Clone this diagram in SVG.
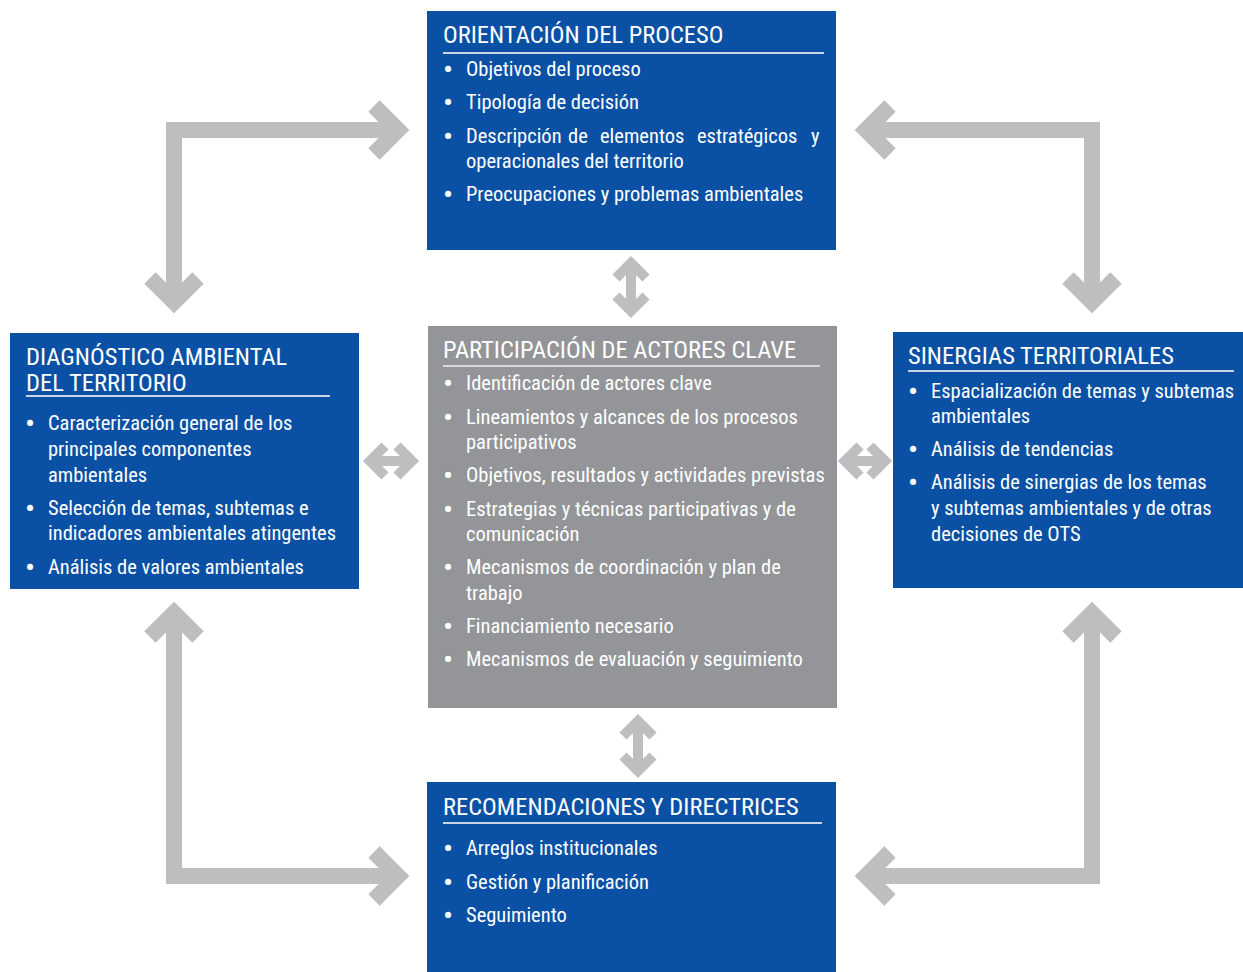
<svg xmlns="http://www.w3.org/2000/svg" width="1243" height="972" viewBox="0 0 1243 972">
<style>
.blue{fill:#0a51a5}
.gray{fill:#939598}
.big{fill:none;stroke:#bcbec0;stroke-width:16;stroke-linejoin:miter;stroke-miterlimit:10}
.sm{fill:none;stroke:#bcbec0;stroke-width:10;stroke-linejoin:miter;stroke-miterlimit:10}
text{font-family:"Liberation Sans Narrow","Roboto Condensed","DejaVu Sans Condensed","Liberation Sans",sans-serif;fill:#ffffff}
.h{font-size:24.5px}
.b{font-size:20.5px}
.bu{font-size:30px;text-anchor:middle}
.ul{stroke:#c9d3e6;stroke-width:2}
.ulg{stroke:#d6d7d9;stroke-width:2}
</style>
<rect width="1243" height="972" fill="#ffffff"/>
<g id="connectors">
  <polyline class="big" points="398,130 174,130 174,302"/>
  <polyline class="big" points="374,106 398,130 374,154"/>
  <polyline class="big" points="150,278 174,302 198,278"/>
  <polyline class="big" points="866,130 1092,130 1092,302"/>
  <polyline class="big" points="890,106 866,130 890,154"/>
  <polyline class="big" points="1068,278 1092,302 1116,278"/>
  <polyline class="big" points="174,613 174,876 398,876"/>
  <polyline class="big" points="150,637 174,613 198,637"/>
  <polyline class="big" points="374,852 398,876 374,900"/>
  <polyline class="big" points="1092,613 1092,876 866,876"/>
  <polyline class="big" points="1068,637 1092,613 1116,637"/>
  <polyline class="big" points="890,852 866,876 890,900"/>
  <line class="sm" x1="631" y1="263" x2="631" y2="311"/>
  <polyline class="sm" points="616,278 631,263 646,278"/>
  <polyline class="sm" points="616,296 631,311 646,296"/>
  <line class="sm" x1="638" y1="721" x2="638" y2="771"/>
  <polyline class="sm" points="623,736 638,721 653,736"/>
  <polyline class="sm" points="623,756 638,771 653,756"/>
  <line class="sm" x1="370" y1="461" x2="412" y2="461"/>
  <polyline class="sm" points="385,446 370,461 385,476"/>
  <polyline class="sm" points="397,446 412,461 397,476"/>
  <line class="sm" x1="845" y1="461" x2="885" y2="461"/>
  <polyline class="sm" points="860,446 845,461 860,476"/>
  <polyline class="sm" points="870,446 885,461 870,476"/>
</g>
<g id="orientacion">
  <rect class="blue" x="427" y="11" width="409" height="239"/>
  <text class="h" x="443" y="43">ORIENTACIÓN DEL PROCESO</text>
  <line class="ul" x1="443" y1="53" x2="824" y2="53"/>
  <text class="bu" x="448" y="80">•</text>
  <text class="b" x="466" y="76">Objetivos del proceso</text>
  <text class="bu" x="448" y="113">•</text>
  <text class="b" x="466" y="109">Tipología de decisión</text>
  <text class="bu" x="448" y="147">•</text>
  <text class="b" y="143"><tspan x="466">Descripción</tspan><tspan x="568">de</tspan><tspan x="600">elementos</tspan><tspan x="697">estratégicos</tspan><tspan x="811">y</tspan></text>
  <text class="b" x="466" y="168">operacionales del territorio</text>
  <text class="bu" x="448" y="205">•</text>
  <text class="b" x="466" y="201">Preocupaciones y problemas ambientales</text>
</g>
<g id="diagnostico">
  <rect class="blue" x="10" y="333" width="349" height="256"/>
  <text class="h" x="26" y="365">DIAGNÓSTICO AMBIENTAL</text>
  <text class="h" x="26" y="391">DEL TERRITORIO</text>
  <line class="ul" x1="26" y1="396" x2="330" y2="396"/>
  <text class="bu" x="30" y="434">•</text>
  <text class="b" x="48" y="430">Caracterización general de los</text>
  <text class="b" x="48" y="456">principales componentes</text>
  <text class="b" x="48" y="482">ambientales</text>
  <text class="bu" x="30" y="519">•</text>
  <text class="b" x="48" y="515">Selección de temas, subtemas e</text>
  <text class="b" x="48" y="540">indicadores ambientales atingentes</text>
  <text class="bu" x="30" y="578">•</text>
  <text class="b" x="48" y="574">Análisis de valores ambientales</text>
</g>
<g id="participacion">
  <rect class="gray" x="428" y="326" width="409" height="382"/>
  <text class="h" x="443" y="358">PARTICIPACIÓN DE ACTORES CLAVE</text>
  <line class="ulg" x1="443" y1="366" x2="820" y2="366"/>
  <text class="bu" x="448" y="394">•</text>
  <text class="b" x="466" y="390">Identificación de actores clave</text>
  <text class="bu" x="448" y="428">•</text>
  <text class="b" x="466" y="424">Lineamientos y alcances de los procesos</text>
  <text class="b" x="466" y="449">participativos</text>
  <text class="bu" x="448" y="486">•</text>
  <text class="b" x="466" y="482">Objetivos, resultados y actividades previstas</text>
  <text class="bu" x="448" y="520">•</text>
  <text class="b" x="466" y="516">Estrategias y técnicas participativas y de</text>
  <text class="b" x="466" y="541">comunicación</text>
  <text class="bu" x="448" y="578">•</text>
  <text class="b" x="466" y="574">Mecanismos de coordinación y plan de</text>
  <text class="b" x="466" y="600">trabajo</text>
  <text class="bu" x="448" y="637">•</text>
  <text class="b" x="466" y="633">Financiamiento necesario</text>
  <text class="bu" x="448" y="670">•</text>
  <text class="b" x="466" y="666">Mecanismos de evaluación y seguimiento</text>
</g>
<g id="sinergias">
  <rect class="blue" x="893" y="332" width="350" height="256"/>
  <text class="h" x="908" y="364">SINERGIAS TERRITORIALES</text>
  <line class="ul" x1="908" y1="371" x2="1234" y2="371"/>
  <text class="bu" x="913" y="402">•</text>
  <text class="b" x="931" y="398">Espacialización de temas y subtemas</text>
  <text class="b" x="931" y="423">ambientales</text>
  <text class="bu" x="913" y="460">•</text>
  <text class="b" x="931" y="456">Análisis de tendencias</text>
  <text class="bu" x="913" y="493">•</text>
  <text class="b" x="931" y="489">Análisis de sinergias de los temas</text>
  <text class="b" x="931" y="515">y subtemas ambientales y de otras</text>
  <text class="b" x="931" y="541">decisiones de OTS</text>
</g>
<g id="recomendaciones">
  <rect class="blue" x="427" y="782" width="409" height="190"/>
  <text class="h" x="443" y="815">RECOMENDACIONES Y DIRECTRICES</text>
  <line class="ul" x1="443" y1="823" x2="822" y2="823"/>
  <text class="bu" x="448" y="859">•</text>
  <text class="b" x="466" y="855">Arreglos institucionales</text>
  <text class="bu" x="448" y="893">•</text>
  <text class="b" x="466" y="889">Gestión y planificación</text>
  <text class="bu" x="448" y="926">•</text>
  <text class="b" x="466" y="922">Seguimiento</text>
</g>
</svg>
